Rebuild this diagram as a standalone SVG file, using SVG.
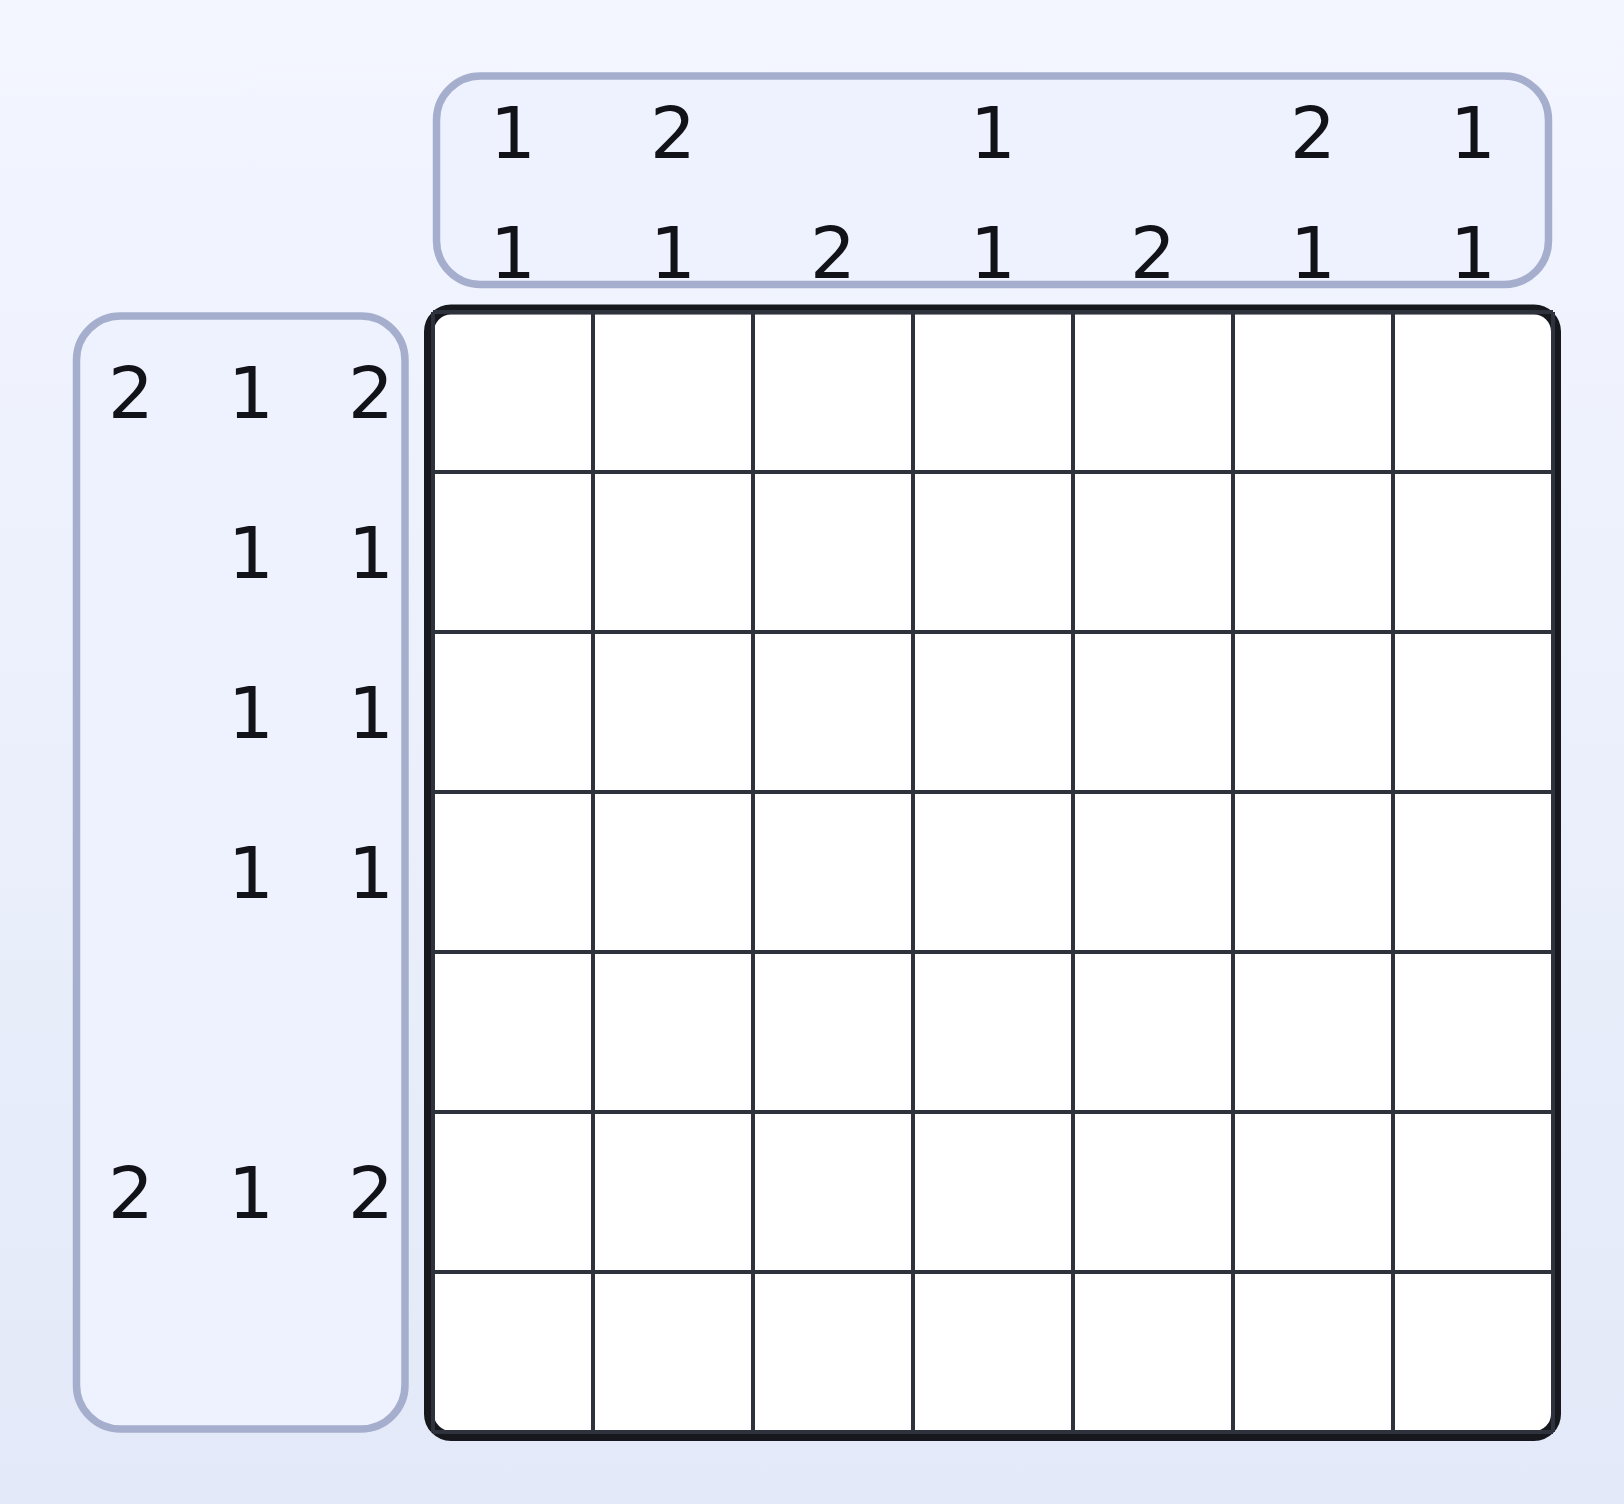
<svg xmlns="http://www.w3.org/2000/svg" width="1624" height="1504" viewBox="0 0 1624 1504">
<defs>
<linearGradient id="bg" x1="0" y1="0" x2="0" y2="1">
<stop offset="0" stop-color="#f3f6ff"/>
<stop offset="1" stop-color="#e3e9f8"/>
</linearGradient>
</defs>
<style>
.clue{fill:#eef1fe;stroke:#a5aecd;stroke-width:7.5}
.num{font-family:"DejaVu Sans",sans-serif;font-size:72px;fill:#121318;text-anchor:middle}
.grid{stroke:#2e323c;stroke-width:4;fill:none}
</style>
<rect x="0" y="0" width="1624" height="1504" fill="url(#bg)"/>
<g id="col-clues">
<rect class="clue" x="436.5" y="76" width="1112" height="208.5" rx="44"/>
<text class="num" x="513" y="158">1</text>
<text class="num" x="673" y="158">2</text>
<text class="num" x="993" y="158">1</text>
<text class="num" x="1313" y="158">2</text>
<text class="num" x="1473" y="158">1</text>
<text class="num" x="513" y="278">1</text>
<text class="num" x="673" y="278">1</text>
<text class="num" x="833" y="278">2</text>
<text class="num" x="993" y="278">1</text>
<text class="num" x="1153" y="278">2</text>
<text class="num" x="1313" y="278">1</text>
<text class="num" x="1473" y="278">1</text>
</g>
<g id="row-clues">
<rect class="clue" x="76.5" y="316" width="328.5" height="1113" rx="44"/>
<text class="num" x="131" y="418">2</text>
<text class="num" x="251" y="418">1</text>
<text class="num" x="371" y="418">2</text>
<text class="num" x="251" y="578">1</text>
<text class="num" x="371" y="578">1</text>
<text class="num" x="251" y="738">1</text>
<text class="num" x="371" y="738">1</text>
<text class="num" x="251" y="898">1</text>
<text class="num" x="371" y="898">1</text>
<text class="num" x="131" y="1218">2</text>
<text class="num" x="251" y="1218">1</text>
<text class="num" x="371" y="1218">2</text>
</g>
<g id="board">
<rect x="429" y="309.5" width="1127" height="1126.5" rx="22" fill="#ffffff" stroke="#16181d" stroke-width="10"/>
<g class="grid">
<path d="M433 312V1432M593 312V1432M753 312V1432M913 312V1432M1073 312V1432M1233 312V1432M1393 312V1432M1553 312V1432"/>
<path d="M433 312H1553M433 472H1553M433 632H1553M433 792H1553M433 952H1553M433 1112H1553M433 1272H1553M433 1432H1553"/>
</g>
</g>
</svg>
